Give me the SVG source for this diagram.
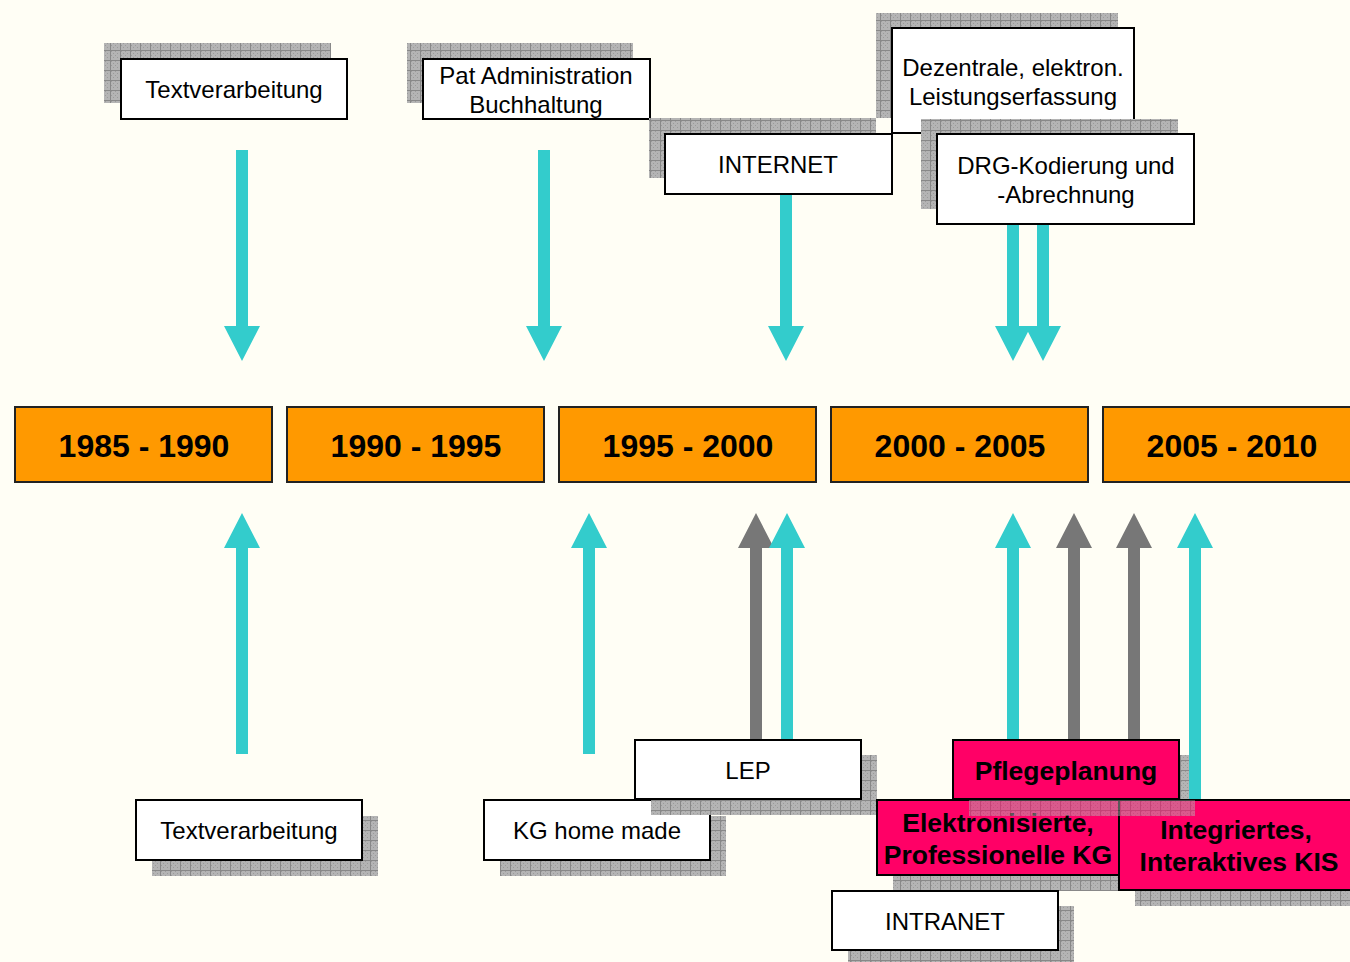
<svg xmlns="http://www.w3.org/2000/svg" width="1350" height="962" viewBox="0 0 1350 962">
<defs>
<pattern id="hatch" width="10" height="10" patternUnits="userSpaceOnUse">
<rect width="10" height="10" fill="#b4b4b4"/>
<rect x="1" y="1" width="1" height="1" fill="#9a9a9a"/><rect x="3" y="3" width="1" height="1" fill="#9a9a9a"/><rect x="5" y="5" width="1" height="1" fill="#9a9a9a"/><rect x="7" y="7" width="1" height="1" fill="#9a9a9a"/><rect x="3" y="7" width="1" height="1" fill="#9a9a9a"/><rect x="7" y="3" width="1" height="1" fill="#9a9a9a"/><rect x="5" y="1" width="1" height="1" fill="#9a9a9a"/><rect x="1" y="5" width="1" height="1" fill="#9a9a9a"/>
<path d="M0 0.5H10M0.5 0V10" stroke="#888888" stroke-width="1"/>
</pattern>
<style>
.shadow{fill:url(#hatch);}
.box{fill:#ffffff;stroke:#000;stroke-width:2;}
.year{fill:#FF9900;stroke:#222;stroke-width:2;}
.pink{fill:#FF0066;stroke:#000;stroke-width:2;}
.t{font-family:"Liberation Sans",Arial,sans-serif;font-size:24px;fill:#000;text-anchor:middle;}
.ty{font-family:"Liberation Sans",Arial,sans-serif;font-size:32px;font-weight:bold;fill:#000;text-anchor:middle;}
.tb{font-family:"Liberation Sans",Arial,sans-serif;font-size:26.5px;font-weight:bold;fill:#000;text-anchor:middle;}
.cy{fill:#33CCCC;}
.gr{fill:#777777;}
</style>
</defs>
<rect width="1350" height="962" fill="#FFFEF5"/>

<g id="years">
<g id="y1985"><rect class="year" x="15" y="407" width="257" height="75"/><text class="ty" x="144" y="457">1985 - 1990</text></g>
<g id="y1990"><rect class="year" x="287" y="407" width="257" height="75"/><text class="ty" x="416" y="457">1990 - 1995</text></g>
<g id="y1995"><rect class="year" x="559" y="407" width="257" height="75"/><text class="ty" x="688" y="457">1995 - 2000</text></g>
<g id="y2000"><rect class="year" x="831" y="407" width="257" height="75"/><text class="ty" x="960" y="457">2000 - 2005</text></g>
<g id="y2005"><rect class="year" x="1103" y="407" width="260" height="75"/><text class="ty" x="1232" y="457">2005 - 2010</text></g>
</g>

<g id="top-text"><rect class="shadow" x="104" y="43" width="227" height="60"/><rect class="box" x="121" y="59" width="226" height="60"/><text class="t" x="234" y="98">Textverarbeitung</text></g>
<g id="top-pat"><rect class="shadow" x="407" y="43" width="226" height="60"/><rect class="box" x="423" y="59" width="227" height="60"/><text class="t" x="536" y="84">Pat Administration</text><text class="t" x="536" y="113">Buchhaltung</text></g>
<g id="top-dez"><rect class="shadow" x="876" y="13" width="242" height="105"/></g>
<g id="top-internet"><rect class="shadow" x="649" y="118" width="227" height="60"/></g>
<g id="top-dez-box"><rect class="box" x="892" y="28" width="242" height="105"/><text class="t" x="1013" y="76">Dezentrale, elektron.</text><text class="t" x="1013" y="105">Leistungserfassung</text></g>
<g id="top-internet-box"><rect class="box" x="665" y="134" width="227" height="60"/><text class="t" x="778" y="173">INTERNET</text></g>
<g id="top-drg"><rect class="shadow" x="921" y="119" width="257" height="90"/><rect class="box" x="937" y="134" width="257" height="90"/><text class="t" x="1066" y="174">DRG-Kodierung und</text><text class="t" x="1066" y="203">-Abrechnung</text></g>

<g id="bot-text"><rect class="shadow" x="152" y="816" width="226" height="60"/><rect class="box" x="136" y="800" width="226" height="60"/><text class="t" x="249" y="839">Textverarbeitung</text></g>
<g id="bot-kg"><rect class="shadow" x="500" y="816" width="226" height="60"/><rect class="box" x="484" y="800" width="226" height="60"/><text class="t" x="597" y="839">KG home made</text></g>
<g id="bot-lep"><rect class="shadow" x="651" y="755" width="226" height="60"/><rect class="box" x="635" y="740" width="226" height="59"/><text class="t" x="748" y="779">LEP</text></g>
<g id="bot-pflege-shadow"><rect class="shadow" x="969" y="755" width="226" height="45"/></g>
<g id="bot-elek"><rect class="shadow" x="893" y="816" width="242" height="75"/><rect class="pink" x="877" y="800" width="242" height="75"/><text class="tb" x="998" y="832">Elektronisierte,</text><text class="tb" x="998" y="864">Professionelle KG</text></g>
<g id="bot-intranet"><rect class="shadow" x="848" y="906" width="226" height="60"/><rect class="box" x="832" y="891" width="226" height="59"/><text class="t" x="945" y="930">INTRANET</text></g>
<g id="bot-kis"><rect class="shadow" x="1135" y="816" width="230" height="90"/><rect class="pink" x="1119" y="800" width="245" height="90"/><text class="tb" x="1236" y="839">Integriertes,</text><text class="tb" x="1239" y="871">Interaktives KIS</text></g>
<g id="bot-pflege"><rect class="shadow" x="969" y="800" width="226" height="16" opacity="0.5"/><rect class="pink" x="953" y="740" width="226" height="59"/><text class="tb" x="1066" y="780">Pflegeplanung</text></g>

<g id="connectors">
<polygon class="cy" points="236,150 248,150 248,326 260,326 242,361 224,326 236,326"/>
<polygon class="cy" points="538,150 550,150 550,326 562,326 544,361 526,326 538,326"/>
<polygon class="cy" points="780,195 792,195 792,326 804,326 786,361 768,326 780,326"/>
<polygon class="cy" points="1007,225 1019,225 1019,326 1031,326 1013,361 995,326 1007,326"/>
<polygon class="cy" points="1037,225 1049,225 1049,326 1061,326 1043,361 1025,326 1037,326"/>
<polygon class="cy" points="242,513 260,548 248,548 248,754 236,754 236,548 224,548"/>
<polygon class="cy" points="589,513 607,548 595,548 595,754 583,754 583,548 571,548"/>
<polygon class="gr" points="756,513 774,548 762,548 762,739 750,739 750,548 738,548"/>
<polygon class="cy" points="787,513 805,548 793,548 793,739 781,739 781,548 769,548"/>
<polygon class="cy" points="1013,513 1031,548 1019,548 1019,739 1007,739 1007,548 995,548"/>
<polygon class="gr" points="1074,513 1092,548 1080,548 1080,739 1068,739 1068,548 1056,548"/>
<polygon class="gr" points="1134,513 1152,548 1140,548 1140,739 1128,739 1128,548 1116,548"/>
<polygon class="cy" points="1195,513 1213,548 1201,548 1201,799 1189,799 1189,548 1177,548"/>
</g>
</svg>
